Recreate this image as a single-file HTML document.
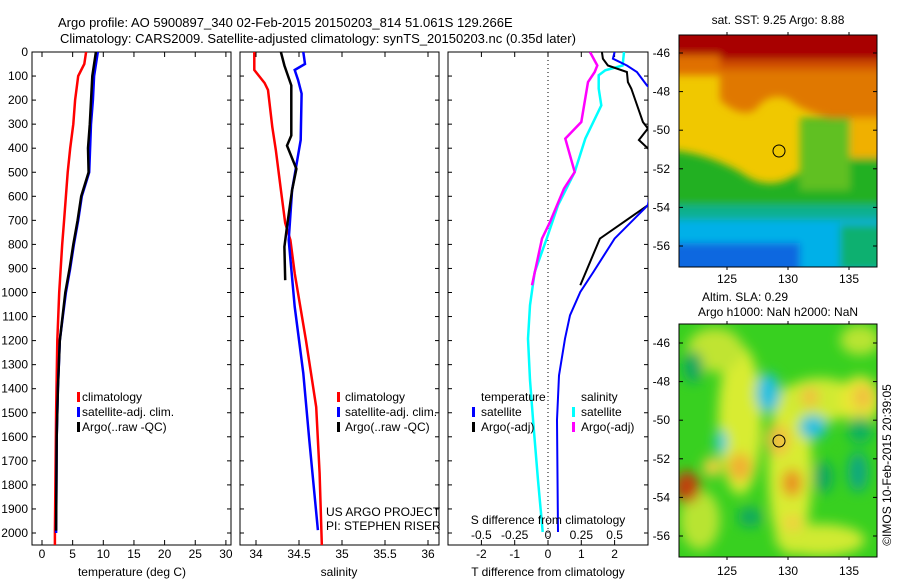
<!DOCTYPE html>
<html><head><meta charset="utf-8"><style>
body{margin:0;background:#fff}
svg{display:block;font-family:"Liberation Sans",sans-serif;font-size:12px}
</style></head><body>
<svg id="s" width="900" height="580" viewBox="0 0 900 580">
<defs>
<clipPath id="c1"><rect x="32" y="52" width="199" height="493"/></clipPath>
<clipPath id="c2"><rect x="240" y="52" width="199" height="493"/></clipPath>
<clipPath id="c3"><rect x="448" y="52" width="200" height="493"/></clipPath>
<clipPath id="cm1"><rect x="679" y="35" width="198" height="232"/></clipPath>
<clipPath id="cm2"><rect x="679" y="324" width="198" height="233"/></clipPath>
<filter id="bl" x="-20%" y="-20%" width="140%" height="140%"><feGaussianBlur stdDeviation="4"/></filter>
<filter id="bl2" x="-20%" y="-20%" width="140%" height="140%"><feGaussianBlur stdDeviation="6"/></filter>
</defs>
<text x="58" y="27" font-size="13">Argo profile: AO 5900897_340 02-Feb-2015 20150203_814 51.061S 129.266E</text>
<text x="60" y="43" font-size="13">Climatology: CARS2009. Satellite-adjusted climatology: synTS_20150203.nc (0.35d later)</text>

<!-- SST map -->
<g clip-path="url(#cm1)">
<rect x="679" y="35" width="198" height="232" fill="#f0c800"/>
<g filter="url(#bl)">
<rect x="660" y="195" width="240" height="30" fill="#10b090"/>
<rect x="660" y="220" width="240" height="60" fill="#00b0e8"/>
<rect x="660" y="243" width="140" height="40" fill="#1068e0"/>
<rect x="840" y="225" width="60" height="45" fill="#10b070"/>
<path d="M660 150 Q700 150 740 172 Q770 195 800 172 L800 118 L900 115 L900 205 L660 205Z" fill="#20b020"/>
<rect x="800" y="120" width="50" height="70" fill="#60c020"/>
<rect x="850" y="118" width="50" height="40" fill="#f0b000"/>
<rect x="660" y="55" width="240" height="20" fill="#d05000"/>
<path d="M720 70 L900 70 L900 118 L830 118 Q800 110 790 100 Q770 90 755 110 Q740 118 720 100Z" fill="#e07800"/>
<rect x="660" y="20" width="240" height="40" fill="#a80000"/>
<rect x="660" y="55" width="60" height="20" fill="#e07000"/>
</g>
</g>
<rect x="679" y="35" width="198" height="232" fill="none" stroke="#000"/>
<circle cx="779" cy="151" r="6" fill="none" stroke="#000"/>
<text x="778" y="24" text-anchor="middle">sat. SST: 9.25 Argo: 8.88</text>

<!-- SLA map -->
<g clip-path="url(#cm2)">
<rect x="679" y="324" width="198" height="233" fill="#38d020"/>
<g filter="url(#bl2)">
<ellipse cx="740" cy="420" rx="22" ry="75" fill="#d8ec30"/>
<ellipse cx="790" cy="470" rx="22" ry="85" fill="#d8ec30"/>
<ellipse cx="820" cy="400" rx="38" ry="22" fill="#d0ea30"/>
<ellipse cx="715" cy="350" rx="28" ry="22" fill="#c0e430"/>
<ellipse cx="860" cy="400" rx="20" ry="24" fill="#e8e830"/>
<ellipse cx="820" cy="540" rx="45" ry="16" fill="#d0ea30"/>
<ellipse cx="700" cy="520" rx="20" ry="30" fill="#b8e430"/>
<ellipse cx="860" cy="340" rx="20" ry="15" fill="#b8e430"/>
<ellipse cx="740" cy="467" rx="12" ry="14" fill="#f0b030"/>
<ellipse cx="712" cy="467" rx="9" ry="10" fill="#f0d040"/>
<ellipse cx="778" cy="440" rx="12" ry="16" fill="#f0c040"/>
<ellipse cx="810" cy="397" rx="9" ry="10" fill="#f0c040"/>
<ellipse cx="863" cy="397" rx="10" ry="12" fill="#f0c040"/>
<ellipse cx="792" cy="483" rx="10" ry="14" fill="#e89020"/>
<ellipse cx="793" cy="523" rx="10" ry="8" fill="#f0d040"/>
<ellipse cx="687" cy="487" rx="13" ry="16" fill="#c04010"/>
<ellipse cx="768" cy="393" rx="12" ry="20" fill="#20c0e0"/>
<ellipse cx="813" cy="427" rx="14" ry="12" fill="#20c0e0"/>
<ellipse cx="721" cy="442" rx="6" ry="12" fill="#30c8e0"/>
<ellipse cx="858" cy="472" rx="10" ry="20" fill="#10a880"/>
<ellipse cx="693" cy="367" rx="10" ry="16" fill="#10a860"/>
<ellipse cx="750" cy="517" rx="12" ry="10" fill="#10a860"/>
<ellipse cx="823" cy="477" rx="10" ry="16" fill="#10a860"/>
<ellipse cx="860" cy="430" rx="12" ry="14" fill="#10b060"/>
</g>
</g>
<rect x="679" y="324" width="198" height="233" fill="none" stroke="#000"/>
<circle cx="779" cy="441" r="6" fill="none" stroke="#000"/>
<text x="745" y="301" text-anchor="middle">Altim. SLA: 0.29</text>
<text x="778" y="316" text-anchor="middle">Argo h1000: NaN h2000: NaN</text>
<text transform="translate(891,465) rotate(-90)" text-anchor="middle">©IMOS 10-Feb-2015 20:39:05</text>

<g id="axes"></g>
<g id="marks"></g>

<text x="82" y="401">climatology</text>
<text x="82" y="416">satellite-adj. clim.</text>
<text x="82" y="431">Argo(..raw -QC)</text>
<rect x="77" y="392" width="3" height="10" fill="red"/><rect x="77" y="407" width="3" height="10" fill="blue"/><rect x="77" y="422" width="3" height="10" fill="#000"/>
<text x="345" y="401">climatology</text>
<text x="345" y="416">satellite-adj. clim.</text>
<text x="345" y="431">Argo(..raw -QC)</text>
<rect x="337" y="392" width="3" height="10" fill="red"/><rect x="337" y="407" width="3" height="10" fill="blue"/><rect x="337" y="422" width="3" height="10" fill="#000"/>
<text x="326" y="516">US ARGO PROJECT</text>
<text x="326" y="530">PI: STEPHEN RISER</text>
<text x="481" y="401">temperature</text>
<text x="481" y="416">satellite</text>
<text x="481" y="431">Argo(-adj)</text>
<text x="581" y="401">salinity</text>
<text x="581" y="416">satellite</text>
<text x="581" y="431">Argo(-adj)</text>
<rect x="472" y="407" width="3" height="10" fill="blue"/><rect x="472" y="422" width="3" height="10" fill="#000"/>
<rect x="572" y="407" width="3" height="10" fill="cyan"/><rect x="572" y="422" width="3" height="10" fill="magenta"/>
<text x="548" y="524" text-anchor="middle">S difference from climatology</text>
<text x="132" y="576" text-anchor="middle">temperature (deg C)</text>
<text x="339" y="576" text-anchor="middle">salinity</text>
<text x="548" y="576" text-anchor="middle">T difference from climatology</text>
</svg>
<script>
// ---- data ----
const tClimDepth=[0,50,100,200,300,400,500,600,700,800,1000,1200,1500,2000,2100];
const tClimVal=[7.2,6.9,5.9,5.4,5.1,4.6,4.2,3.9,3.6,3.3,2.8,2.5,2.3,2.1,2.1];
const tSatDepth=[0,100,200,300,500,600,700,800,900,1000,1100,1200,1400,1600,2000];
const tSatVal=[9.1,8.5,8.3,8.0,7.7,6.5,5.9,5.2,4.6,3.9,3.4,2.9,2.6,2.4,2.3];
const tArgoDepth=[0,100,300,400,500,600,700,800,900,1000,1200,1400,1600,1990];
const tArgoVal=[8.8,8.2,7.8,7.5,7.6,6.4,5.8,5.1,4.5,3.8,2.9,2.6,2.4,2.3];
const sClimDepth=[0,75,129,158,312,407,574,711,782,920,1197,1476,1751,2100];
const sClimVal=[33.98,33.98,34.1,34.14,34.19,34.23,34.29,34.34,34.4,34.45,34.58,34.7,34.74,34.77];
const sSatDepth=[0,50,75,117,173,366,574,782,1059,1336,1614,1988];
const sSatVal=[34.55,34.57,34.45,34.49,34.53,34.52,34.42,34.38,34.45,34.55,34.62,34.72];
const sArgoDepth=[0,56,139,222,347,389,486,574,726,810,949];
const sArgoVal=[34.29,34.33,34.41,34.41,34.41,34.36,34.47,34.42,34.36,34.33,34.34];
const dSArgoDepth=[0,56,83,125,291,360,499,568,707,776,970];
const dSArgoVal=[0.315,0.37,0.35,0.30,0.25,0.13,0.2,0.12,0.015,-0.045,-0.12];
const dSSatDepth=[0,56,76,97,152,222,360,499,637,776,915,1053,1192,1364,1543,1780,1996];
const dSSatVal=[0.57,0.56,0.43,0.38,0.38,0.4,0.28,0.2,0.075,-0.01,-0.1,-0.135,-0.15,-0.135,-0.11,-0.075,-0.04];
const dTSatDepth=[0,28,56,83,139,200,637,776,915,998,1095,1192,1345,1530,1996];
const dTSatVal=[2.0,1.95,2.37,2.67,2.97,3.5,3.0,2.0,1.36,0.97,0.66,0.51,0.33,0.27,0.3];
const dTArgoDepth=[0,28,56,83,125,152,291,318,366,401,500,637,776,970];
const dTArgoVal=[1.62,1.65,1.8,2.37,2.4,2.5,2.85,3.0,2.73,3.0,3.6,3.0,1.56,0.97];
const depthTicks=[0,100,200,300,400,500,600,700,800,900,1000,1100,1200,1300,1400,1500,1600,1700,1800,1900,2000];
const tTicks=[0,5,10,15,20,25,30];
const sTicks=[34,34.5,35,35.5,36];
const dTTicks=[-2,-1,0,1,2];
const dSTickLabels=["-0.5","-0.25","0","0.25","0.5"];
const dSTicks=[-0.5,-0.25,0,0.25,0.5];
const latTicks=[-46,-48,-50,-52,-54,-56];
const lonTicks=[125,130,135];
// ---- scales ----
const yD=d=>52+d*0.2405;
const xT=v=>42+v*6.13;
const xS=v=>256+(v-34)*86;
const xDT=v=>548+v*33.3;
const xDS=v=>548+v*133.3;
const yLat1=v=>53+(-46-v)*19.3;
const yLat2=v=>343+(-46-v)*19.3;
const xLon=v=>727+(v-125)*12.2;
const NS="http://www.w3.org/2000/svg";
const axes=document.getElementById('axes'), marks=document.getElementById('marks');
function el(tag,at,par){const e=document.createElementNS(NS,tag);for(const k in at)e.setAttribute(k,at[k]);par.appendChild(e);return e;}
function txt(x,y,s,anchor,par){const t=el('text',{x:x,y:y,'text-anchor':anchor},par);t.textContent=s;return t;}
const panels=[[32,'panel-temperature'],[240,'panel-salinity'],[448,'panel-difference']];
panels.forEach(p=>{
  const w=p[1]==='panel-difference'?200:199;
  const r=el('rect',{x:p[0],y:52,width:w,height:493,fill:'none',stroke:'#000'},axes);
  
  
  depthTicks.forEach(d=>{
    el('line',{x1:p[0],x2:p[0]+4,y1:yD(d),y2:yD(d),stroke:'#000'},axes);
    el('line',{x1:p[0]+w-4,x2:p[0]+w,y1:yD(d),y2:yD(d),stroke:'#000'},axes);
  });
});
depthTicks.forEach(d=>{
  const t=txt(28,yD(d)+4,String(d),'end',axes);
  
  
});
function xticks(vals,fx,labels){vals.forEach((v,i)=>{const x=fx(v);
  el('line',{x1:x,x2:x,y1:52,y2:57,stroke:'#000'},axes);
  el('line',{x1:x,x2:x,y1:540,y2:545,stroke:'#000'},axes);
  const t=txt(x,558,labels?labels[i]:String(v),'middle',axes);
  
  
});}
xticks(tTicks,xT);xticks(sTicks,xS);xticks(dTTicks,xDT);
dSTicks.forEach((v,i)=>{const t=txt(xDS(v),539,dSTickLabels[i],'middle',axes);
  
  });
const zl=el('line',{x1:548,x2:548,y1:52,y2:545,stroke:'#000','stroke-dasharray':'1,3'},axes);


latTicks.forEach(v=>{[yLat1(v),yLat2(v)].forEach(y=>{
  el('line',{x1:679,x2:683,y1:y,y2:y,stroke:'#000'},axes);el('line',{x1:873,x2:877,y1:y,y2:y,stroke:'#000'},axes);
  const t=txt(670,y+4,String(v),'end',axes);
  
  });});
lonTicks.forEach(v=>{const x=xLon(v);
  [[35,267,283],[324,557,575]].forEach(m=>{
  el('line',{x1:x,x2:x,y1:m[0]-3,y2:m[0],stroke:'#000'},axes);el('line',{x1:x,x2:x,y1:m[1],y2:m[1]+3,stroke:'#000'},axes);
  const t=txt(x,m[2],String(v),'middle',axes);
  
  });});
function line(ds,vs,fx,color,clip,name,w){
  const pts=ds.map((d,i)=>fx(vs[i]).toFixed(1)+','+yD(d).toFixed(1)).join(' ');
  const p=el('polyline',{points:pts,fill:'none',stroke:color,'stroke-width':w||2.5,'clip-path':'url(#'+clip+')'},marks);
  
  
}
line(tClimDepth,tClimVal,xT,'red','c1','temp-climatology-line');
line(tSatDepth,tSatVal,xT,'blue','c1','temp-satellite-line');
line(tArgoDepth,tArgoVal,xT,'#000','c1','temp-argo-line');
line(sClimDepth,sClimVal,xS,'red','c2','sal-climatology-line');
line(sSatDepth,sSatVal,xS,'blue','c2','sal-satellite-line');
line(sArgoDepth,sArgoVal,xS,'#000','c2','sal-argo-line');
line(dSSatDepth,dSSatVal,xDS,'cyan','c3','s-diff-satellite-line');
line(dSArgoDepth,dSArgoVal,xDS,'magenta','c3','s-diff-argo-line');
line(dTArgoDepth,dTArgoVal,xDT,'#000','c3','t-diff-argo-line',2);
line(dTSatDepth,dTSatVal,xDT,'blue','c3','t-diff-satellite-line',2);
</script>
</body></html>
